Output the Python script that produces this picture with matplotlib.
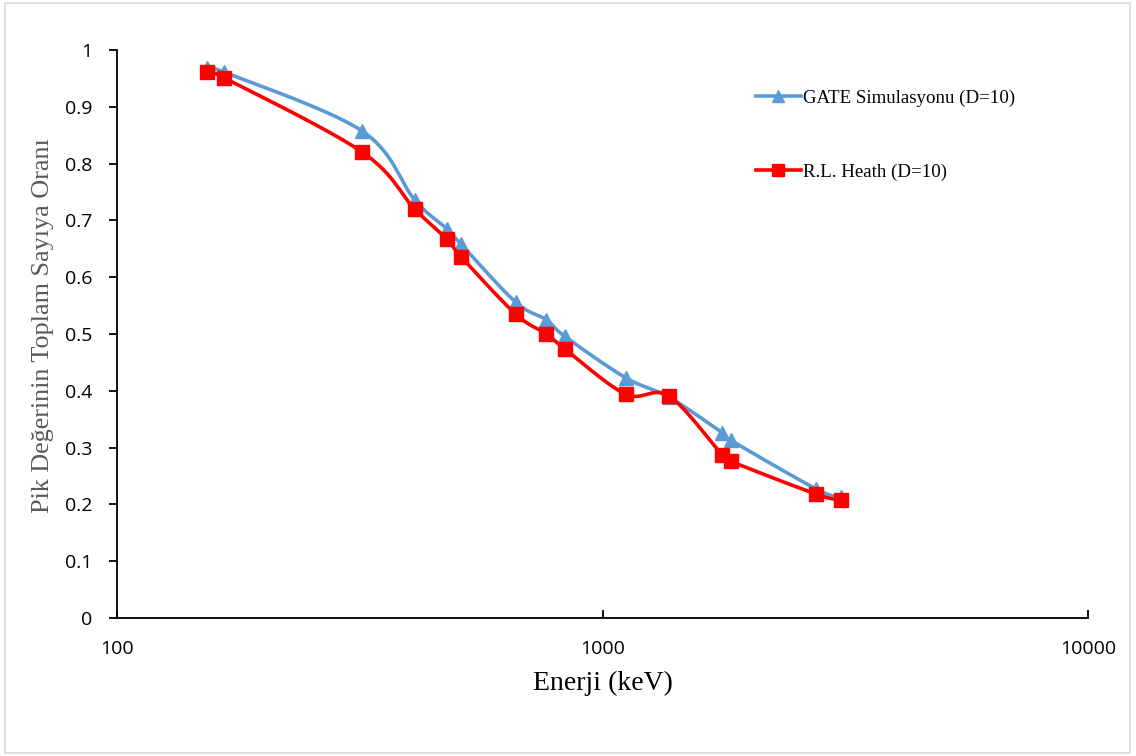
import numpy as np
import matplotlib
matplotlib.use("Agg")
import matplotlib.pyplot as plt
from matplotlib.patches import Rectangle
from matplotlib.ticker import FixedLocator, FixedFormatter, NullLocator

# Energies (keV) and peak-to-total ratios
gate_energy = [153, 166, 320, 410, 478, 511, 662, 766, 835, 1115, 1368, 1764, 1836, 2754, 3090]
gate_ratio = [0.968, 0.961, 0.857, 0.736, 0.685, 0.658, 0.556, 0.525, 0.496, 0.423, 0.389, 0.326, 0.313, 0.227, 0.213]

heath_energy = [153, 166, 320, 410, 478, 511, 662, 766, 835, 1115, 1368, 1764, 1836, 2754, 3090]
heath_ratio = [0.961, 0.951, 0.820, 0.720, 0.667, 0.636, 0.535, 0.500, 0.474, 0.394, 0.391, 0.287, 0.276, 0.218, 0.208]

x_ticks = [100, 1000, 10000]
x_tick_labels = ["100", "1000", "10000"]
y_ticks = [0, 0.1, 0.2, 0.3, 0.4, 0.5, 0.6, 0.7, 0.8, 0.9, 1]
y_tick_labels = ["0", "0.1", "0.2", "0.3", "0.4", "0.5", "0.6", "0.7", "0.8", "0.9", "1"]


def smooth_curve(xs, ys, n=40):
    """Catmull-Rom style smoothing in log-x space (spreadsheet 'smoothed line')."""
    lx = np.log10(np.asarray(xs, float))
    y = np.asarray(ys, float)
    pts = np.column_stack([lx, y])
    out = []
    for i in range(len(pts) - 1):
        p0 = pts[i - 1] if i > 0 else pts[i]
        p1 = pts[i]
        p2 = pts[i + 1]
        p3 = pts[i + 2] if i + 2 < len(pts) else pts[i + 1]
        c1 = p1 + (p2 - p0) / 6.0
        c2 = p2 - (p3 - p1) / 6.0
        t = np.linspace(0, 1, n)[:, None]
        seg = ((1 - t) ** 3) * p1 + 3 * ((1 - t) ** 2) * t * c1 + 3 * (1 - t) * t ** 2 * c2 + t ** 3 * p2
        out.append(seg if i == 0 else seg[1:])
    curve = np.vstack(out)
    return 10 ** curve[:, 0], curve[:, 1]


fig = plt.figure(figsize=(11.36, 7.56), dpi=100)
fig.patch.set_facecolor("white")
fig.add_artist(Rectangle((0.004, 0.004), 0.991, 0.992, transform=fig.transFigure,
                         fill=False, edgecolor="#D9D9D9", linewidth=1.2))

ax = fig.add_axes([0.103, 0.1825, 0.855, 0.7515])

blue = "#5B9BD5"
red = "#FF0000"

gx, gy = smooth_curve(gate_energy, gate_ratio)
hx, hy = smooth_curve(heath_energy, heath_ratio)

ax.plot(gx, gy, color=blue, lw=2.6, solid_capstyle="round", zorder=2)
ax.plot(gate_energy, gate_ratio, linestyle="none", marker="^", markersize=10.5,
        color=blue, zorder=3)
ax.plot(hx, hy, color=red, lw=2.6, solid_capstyle="round", zorder=4)
ax.plot(heath_energy, heath_ratio, linestyle="none", marker="s", markersize=10,
        color=red, zorder=5)

# Legend handles
ax.plot([], [], color=blue, lw=2.6, marker="^", markersize=8, label="GATE Simulasyonu (D=10)")
ax.plot([], [], color=red, lw=2.6, marker="s", markersize=8, label="R.L. Heath (D=10)")
handles, labels = ax.get_legend_handles_labels()
leg = ax.legend(handles, labels, loc="upper left", bbox_to_anchor=(0.64, 0.96),
                frameon=False, handlelength=2.4, handletextpad=0.12,
                labelspacing=3.0, prop={"family": "Liberation Serif", "size": 13.6})

ax.set_xscale("log")
ax.set_xlim(100, 10000)
ax.set_ylim(0, 1)
ax.xaxis.set_major_locator(FixedLocator(x_ticks))
ax.xaxis.set_major_formatter(FixedFormatter(x_tick_labels))
ax.xaxis.set_minor_locator(NullLocator())
ax.set_yticks(y_ticks)
ax.set_yticklabels(y_tick_labels)

for s in ["top", "right"]:
    ax.spines[s].set_visible(False)
for s in ["left", "bottom"]:
    ax.spines[s].set_linewidth(1.3)
    ax.spines[s].set_color("black")

ax.tick_params(axis="y", direction="out", length=6, width=1.3, pad=12,
               labelsize=14, labelfontfamily="Open Sans")
ax.tick_params(axis="x", direction="in", length=6, width=1.3, pad=16,
               labelsize=14, labelfontfamily="Open Sans")

ax.set_xlabel("Enerji (keV)", fontfamily="Liberation Serif", fontsize=20, labelpad=9)
ax.set_ylabel("Pik Değerinin Toplam Sayıya Oranı", fontfamily="Liberation Serif",
              fontsize=18.8, color="#595959")
ax.yaxis.set_label_coords(-0.065, 0.514)

fig.savefig("out.png", dpi=100, facecolor="white")
